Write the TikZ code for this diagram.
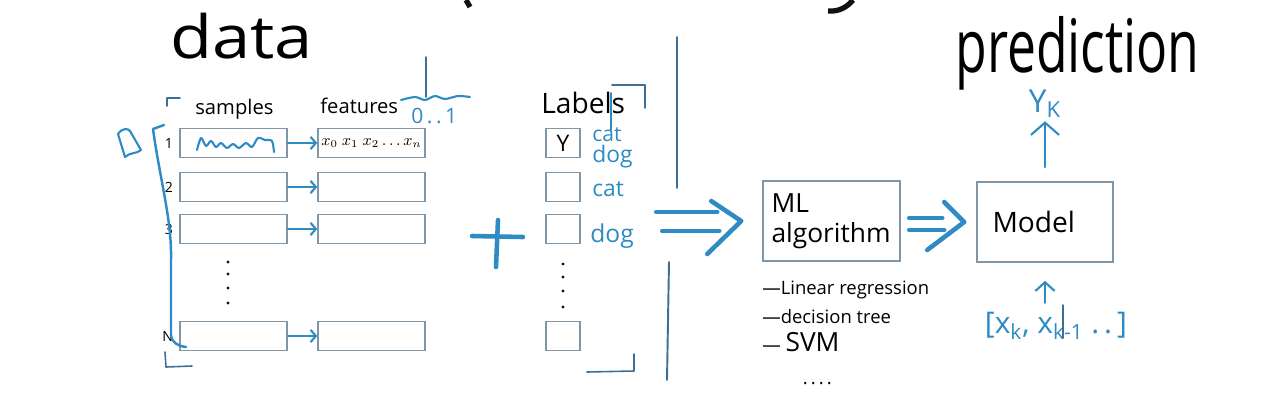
\documentclass[tikz,border=0pt]{standalone}
\usepackage{fontspec}
\setmainfont{Open Sans}
\usepackage{xcolor}
\definecolor{INKcolor}{HTML}{2E8BC4}
\definecolor{BOXcolor}{HTML}{7F97A8}
\definecolor{LINEcolor}{HTML}{3F6F94}
\definecolor{PENcolor}{HTML}{111111}
\usepackage{tikz}
\usetikzlibrary{math, positioning, arrows.meta}

\begin{document}
\begin{tikzpicture}[x=0.02cm, y=-0.02cm,
        box/.style={draw=BOXcolor, line width=0.9pt, inner sep=0pt},
        ink/.style={INKcolor, line width=1.2pt, line cap=round, line join=round},
        pen/.style={PENcolor, line width=0.9pt, line cap=round, line join=round},
        arr/.style={ink, -{Straight Barb[length=3pt, width=7pt]}},
        bigarr/.style={ink, -{Straight Barb[length=7pt, width=16pt]}},
        bigline/.style={INKcolor, line width=2.6pt, line cap=round, line join=round},
        lbl/.style={inner sep=0pt, anchor=base west}]
    \tikzmath{%
        \wsample=2.14;
        \wlabel=0.68;
        \hrow=0.58;
    };
    \useasboundingbox (0, 0) rectangle (1275, 417);

    % titles
    \node [lbl, font=\fontsize{34}{34}\selectfont] (data) at (170, 58) {\scalebox{1.15}[1]{data}};
    \node [lbl, font=\fontsize{42}{42}\selectfont] (pred) at (955, 72) {\scalebox{0.7}[1]{prediction}};
    \draw [PENcolor, line width=3pt] (466, 0) -- (470, 7);
    \draw [PENcolor, line width=3pt] (828, 11) .. controls (840, 12) and (848, 6) .. (853, 0);

    % table
    \foreach \i/\y/\n in {1/143/1, 2/187/2, 3/229/3, 4/336/N} {%
            \node [box, minimum width=\wsample cm, minimum height=\hrow cm] (s\i) at (233.5, \y) {};
            \node [box, minimum width=\wsample cm, minimum height=\hrow cm] (f\i) at (371.5, \y) {};
            \node [box, minimum width=\wlabel cm, minimum height=\hrow cm] (l\i) at (563, \y) {};
            \node [font=\fontsize{8}{8}\selectfont, inner sep=0pt, left=0.12cm of s\i] (n\i) {\n};
            \draw [arr] (s\i) -- (f\i);
        }
    \foreach \y in {262, 274, 288, 303} {%
            \fill [PENcolor] (228, \y) circle (0.9pt);
        }
    \foreach \y in {264, 277, 291, 307} {%
            \fill [PENcolor] (563, \y) circle (0.9pt);
        }
    \node [font=\fontsize{9}{9}\selectfont] (xs) at (f1) {$x_0\ x_1\ x_2 \ldots x_n$};
    \node [font=\fontsize{13}{13}\selectfont] (ylbl) at (l1) {Y};
    \draw [ink] plot [smooth] coordinates {(197, 150) (201, 138) (206, 146) (211, 141) (216, 147) (221, 143) (227, 148) (233, 144) (239, 148) (246, 143) (252, 147) (258, 138) (265, 140) (272, 141) (274, 152)};

    % headers
    \node [lbl, font=\fontsize{11.5}{11.5}\selectfont] (samples) at (195, 114) {samples};
    \node [lbl, font=\fontsize{11.5}{11.5}\selectfont] (features) at (320, 113) {features};
    \node [lbl, INKcolor, font=\fontsize{12}{12}\selectfont] (range) at (411, 123) {0\,.\,.\,1};
    \node [lbl, font=\fontsize{16}{16}\selectfont] (labels) at (541, 113) {Labels};
    \draw [ink] plot [smooth] coordinates {(401, 100) (415, 97) (425, 100) (435, 96) (445, 99) (458, 96) (470, 97)};

    % class names
    \node [lbl, INKcolor, font=\fontsize{12}{12}\selectfont] (c1) at (592, 141) {cat};
    \node [lbl, INKcolor, font=\fontsize{13}{13}\selectfont] (c2) at (592, 162) {dog};
    \node [lbl, INKcolor, font=\fontsize{13}{13}\selectfont] (c3) at (592, 196) {cat};
    \node [lbl, INKcolor, font=\fontsize{14}{14}\selectfont] (c4) at (590, 242) {dog};

    % brackets and strokes
    \draw [pen, LINEcolor] (167, 106) -- (167, 98) -- (180, 98);
    \draw [pen, LINEcolor] (165, 352) -- (166, 367) -- (192, 366);
    \draw [pen, LINEcolor] (612, 85) -- (645, 85) -- (645, 108);
    \draw [pen, LINEcolor] (587, 372) -- (634, 371) -- (634, 354);
    \draw [ink, line width=1.4pt] (164, 125) -- (153, 129) .. controls (160, 180) and (172, 220) .. (171, 260) -- (171, 335) .. controls (172, 343) and (178, 346) .. (186, 347);
    \draw [ink] (118, 134) .. controls (122, 128) and (128, 128) .. (130, 131) -- (141, 150) .. controls (137, 154) and (130, 152) .. (125, 157) -- cycle;
    \draw [pen, LINEcolor, line width=0.8pt] (426, 57) -- (426, 97);
    \draw [ink, line width=1pt] (611, 93) -- (611, 130);
    \draw [pen, LINEcolor, line width=1.1pt] (677, 37) -- (677, 188);
    \draw [pen, LINEcolor, line width=1.1pt] (669, 262) -- (667, 380);

    % plus
    \draw [bigline] (472, 236) -- (523, 237);
    \draw [bigline] (498, 220) -- (496, 267);

    % algorithm
    \node [box, minimum width=2.74cm, minimum height=1.6cm, text width=2.4cm, align=left, font=\fontsize{15}{17}\selectfont] (ml) at (831.5, 221) {ML\\algorithm};
    \node [inner sep=0pt, anchor=north west, align=left, font=\fontsize{10.5}{16}\selectfont] (algos) at (762, 281) {---Linear regression\\---decision tree\\--- {\fontsize{15}{16}\selectfont SVM}\\[3pt]\hspace{2.2em}.\,.\,.\,.};
    \coordinate [left=0.42cm of ml.west] (imp1);
    \draw [bigline] (imp1) ++(-30, -20) -- (imp1) -- ++(-34, 33);
    \draw [bigline] (imp1) ++(-24, -9) -- ++(-61, 0);
    \draw [bigline] (imp1) ++(-22, 10) -- ++(-57, 0);

    % model
    \node [box, minimum width=2.72cm, minimum height=1.6cm, text width=2.1cm, align=left, font=\fontsize{16}{16}\selectfont] (model) at (1045, 222) {Model};
    \coordinate [left=0.24cm of model.west] (imp2);
    \draw [bigline] (imp2) ++(-20, -20) -- (imp2) -- ++(-37, 28);
    \draw [bigline] (imp2) ++(-22, -4) -- ++(-33, 0);
    \draw [bigline] (imp2) ++(-20, 8) -- ++(-35, 0);

    % in and out
    \coordinate [above=1.2cm of model.north] (yk);
    \draw [bigarr, shorten <=0.28cm] (model.north) -- (yk);
    \node [INKcolor, font=\fontsize{18}{18}\selectfont] (yklbl) at (1045, 104) {Y\textsubscript{K}};
    \coordinate [below=0.8cm of model.south] (xin);
    \draw [arr, -{Straight Barb[length=5pt, width=11pt]}, shorten >=0.36cm] (xin) -- (model.south);
    \node [INKcolor, font=\fontsize{17}{17}\selectfont] (xklbl) at (1056, 326) {[x\textsubscript{k}, x\textsubscript{k-1} .\,.\,]};
    \draw [pen, LINEcolor, line width=0.8pt] (1063, 305) -- (1063, 338);

\end{tikzpicture}
\end{document}
